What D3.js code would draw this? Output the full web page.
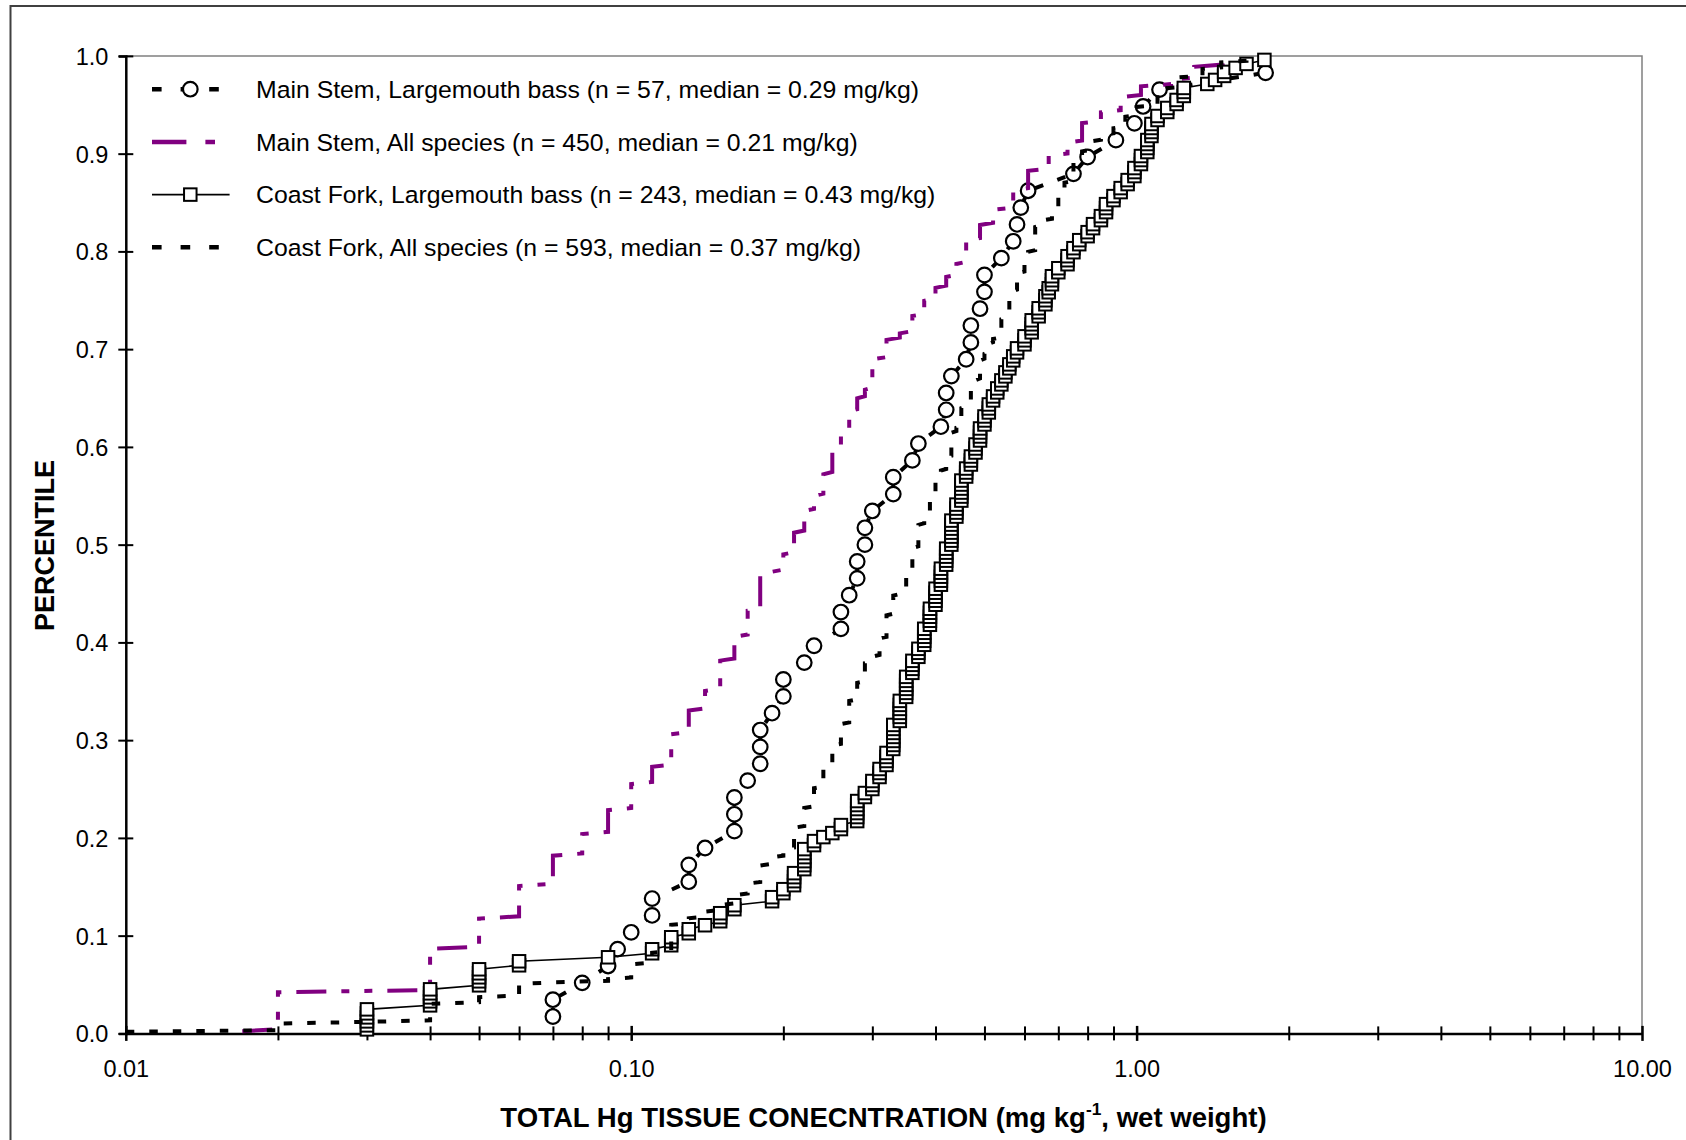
<!DOCTYPE html>
<html><head><meta charset="utf-8">
<script src="https://cdn.jsdelivr.net/npm/d3@7"></script>
<style>
html,body{margin:0;padding:0;background:#fff;}
svg{display:block;}
text{font-family:"Liberation Sans", Arial, sans-serif;}
</style></head>
<body><svg id="chart" width="1686" height="1140"></svg>
<script>
// ---------------- DATA ----------------
const legendLabels = [
  "Main Stem, Largemouth bass (n = 57, median = 0.29 mg/kg)",
  "Main Stem, All species (n = 450, median = 0.21 mg/kg)",
  "Coast Fork, Largemouth bass (n = 243, median = 0.43 mg/kg)",
  "Coast Fork, All species (n = 593, median = 0.37 mg/kg)"
];
// Main Stem, Largemouth bass: individual concentrations (mg/kg), sorted
const msLmbConc = [0.07,0.07,0.08,0.09,0.094,0.10,0.11,0.11,0.13,0.13,0.14,0.16,0.16,0.16,0.17,0.18,0.18,0.18,0.19,0.20,0.20,0.22,0.23,0.26,0.26,0.27,0.28,0.28,0.29,0.29,0.30,0.33,0.33,0.36,0.37,0.41,0.42,0.42,0.43,0.46,0.47,0.47,0.49,0.50,0.50,0.54,0.57,0.58,0.59,0.61,0.75,0.80,0.91,0.99,1.03,1.11,1.80];
// Main Stem, All species: distinct concentrations and number of fish at each
const msAllConc  = [0.017,0.02,0.04,0.05,0.06,0.07,0.08,0.09,0.10,0.11,0.12,0.13,0.14,0.15,0.16,0.17,0.18,0.19,0.20,0.21,0.22,0.23,0.24,0.25,0.26,0.27,0.28,0.29,0.30,0.32,0.34,0.36,0.38,0.40,0.42,0.44,0.46,0.49,0.52,0.57,0.61,0.67,0.73,0.78,0.85,0.93,1.02,1.17,1.30,1.48,1.52];
const msAllCount = [1,18,20,14,15,14,10,11,12,8,15,11,9,14,11,12,16,2,8,10,10,7,10,11,7,11,6,4,14,9,3,8,7,6,5,6,11,7,7,9,9,7,6,9,5,7,5,3,6,2,2];
// Coast Fork, Largemouth bass
const cfLmbConc  = [0.03,0.04,0.05,0.06,0.09,0.11,0.12,0.13,0.14,0.15,0.16,0.19,0.20,0.21,0.22,0.23,0.24,0.25,0.26,0.28,0.29,0.30,0.31,0.32,0.33,0.34,0.35,0.36,0.37,0.38,0.39,0.40,0.41,0.42,0.43,0.44,0.45,0.46,0.47,0.48,0.49,0.50,0.51,0.52,0.53,0.54,0.55,0.56,0.57,0.58,0.60,0.62,0.64,0.66,0.67,0.68,0.70,0.73,0.75,0.77,0.80,0.82,0.85,0.87,0.90,0.93,0.96,0.99,1.02,1.05,1.07,1.10,1.15,1.20,1.24,1.38,1.43,1.49,1.57,1.65,1.79];
const cfLmbCount = [6,5,5,2,1,2,3,2,1,3,2,2,2,4,6,2,1,1,2,6,2,3,3,4,7,6,6,4,3,5,5,5,5,5,7,4,6,3,3,3,4,3,3,2,2,2,2,2,2,2,3,4,3,3,2,3,2,3,2,2,2,2,2,3,2,2,2,3,3,4,4,2,2,2,3,1,1,2,1,1,1];
// Coast Fork, All species
const cfAllConc  = [0.01,0.02,0.03,0.04,0.05,0.06,0.07,0.09,0.10,0.11,0.12,0.13,0.14,0.15,0.16,0.17,0.18,0.19,0.20,0.21,0.22,0.23,0.24,0.25,0.26,0.27,0.28,0.29,0.30,0.31,0.32,0.33,0.34,0.35,0.36,0.37,0.38,0.39,0.40,0.41,0.42,0.43,0.44,0.45,0.46,0.47,0.48,0.49,0.50,0.51,0.52,0.54,0.55,0.56,0.57,0.58,0.60,0.61,0.63,0.65,0.68,0.70,0.72,0.75,0.78,0.81,0.85,0.90,0.95,1.00,1.10,1.21,1.35,1.47,1.65];
const cfAllCount = [1,5,1,11,4,8,1,2,9,7,17,4,4,4,6,7,11,5,5,13,12,12,14,12,13,14,11,12,4,11,14,12,4,10,15,14,5,9,14,5,8,15,3,12,3,9,5,12,4,6,3,12,4,10,3,11,5,8,15,4,7,7,9,14,5,6,4,4,7,6,11,7,5,4,3];

const xTickValues = [0.01, 0.1, 1, 10];
const yTickValues = [0,0.1,0.2,0.3,0.4,0.5,0.6,0.7,0.8,0.9,1.0];
const xTitle = ["TOTAL Hg TISSUE CONECNTRATION (mg kg", "-1", ", wet weight)"];
const yTitle = "PERCENTILE";

// ---------------- LAYOUT ----------------
const L = 125.8, R = 1642, T = 55.9, B = 1033.4;
const svg = d3.select("#chart");
const x = d3.scaleLog().domain([0.01, 10]).range([L, R]);
const y = d3.scaleLinear().domain([0, 1]).range([B, T]);

// plotting positions (rank / (n + 1)) from the sample values
function cdf(conc, count) {
  const n = count ? d3.sum(count) : conc.length;
  const pts = []; let r = 0;
  conc.forEach((v, i) => {
    const c = count ? count[i] : 1;
    for (let k = 0; k < c; k++) { r++; pts.push({v: v, p: r / (n + 1)}); }
  });
  return pts;
}
const msLmb = cdf(msLmbConc), msAll = cdf(msAllConc, msAllCount),
      cfLmb = cdf(cfLmbConc, cfLmbCount), cfAll = cdf(cfAllConc, cfAllCount);

function fitWidth(sel, target, ax) {
  const w = sel.node().getComputedTextLength();
  const s = target / w;
  sel.attr("transform", `translate(${ax},0) scale(${s},1) translate(${-ax},0)`);
}

// outer chart border
svg.append("rect").attr("x", 10.5).attr("y", 6).attr("width", 1700).attr("height", 1200)
  .attr("fill", "none").attr("stroke", "#404040").attr("stroke-width", 2);
// plot area border (top / right)
svg.append("path").attr("d", `M${L},${T}H${R}V${B}`).attr("fill", "none")
  .attr("stroke", "#808080").attr("stroke-width", 1.5);

// axes
const fontFam = '"Liberation Sans", Arial, sans-serif';
const minorTicks = x.ticks().filter(t => !xTickValues.some(m => Math.abs(m - t) < 1e-9));
const gxm = svg.append("g").attr("transform", `translate(0,${B})`)
  .call(d3.axisBottom(x).tickValues(minorTicks).tickFormat("").tickSizeOuter(0));
gxm.select(".domain").remove();
gxm.selectAll(".tick line").attr("y1", -7).attr("y2", 7).attr("stroke", "#000").attr("stroke-width", 2);

const gx = svg.append("g").attr("transform", `translate(0,${B})`)
  .call(d3.axisBottom(x).tickValues(xTickValues).tickFormat(d3.format(".2f")).tickSizeOuter(0));
gx.attr("font-family", fontFam).attr("font-size", 23.5);
gx.select(".domain").attr("stroke", "#000").attr("stroke-width", 2.5);
gx.selectAll(".tick line").attr("y1", -7.5).attr("y2", 7.5).attr("stroke", "#000").attr("stroke-width", 2.5);
gx.selectAll(".tick text").attr("dy", null).attr("y", 44).attr("fill", "#000");

const gy = svg.append("g").attr("transform", `translate(${L},0)`)
  .call(d3.axisLeft(y).tickValues(yTickValues).tickFormat(d3.format(".1f")).tickSizeOuter(0).tickSize(7).tickPadding(10.5));
gy.attr("font-family", fontFam).attr("font-size", 23.5);
gy.select(".domain").attr("stroke", "#000").attr("stroke-width", 2.5);
gy.selectAll(".tick line").attr("x1", -7.5).attr("x2", 7.5).attr("stroke", "#000").attr("stroke-width", 2);
gy.selectAll(".tick text").attr("dy", "0.36em").attr("fill", "#000");

// axis titles
const xt = svg.append("text").attr("x", 883.5).attr("y", 1127).attr("text-anchor", "middle")
  .attr("font-size", 27).attr("font-weight", "bold").attr("fill", "#000");
xt.append("tspan").text(xTitle[0]);
xt.append("tspan").attr("dy", -12).attr("font-size", 17).text(xTitle[1]);
xt.append("tspan").attr("dy", 12).text(xTitle[2]);
fitWidth(xt, 766.7, 883.5);

const yt = svg.append("g").attr("transform", "translate(54,545.5) rotate(-90)")
  .append("text").attr("x", 0).attr("y", 0).attr("text-anchor", "middle")
  .attr("font-size", 27).attr("font-weight", "bold").attr("fill", "#000").text(yTitle);
fitWidth(yt, 171, 0);

// series
const line = d3.line().x(d => x(d.v)).y(d => y(d.p));
const plot = svg.append("g");
const plotDash = "8.5,15";
const purpleDash = "30,15,8,15,8,15";

// Main Stem LMB
plot.append("path").datum(msLmb).attr("d", line).attr("fill", "none")
  .attr("stroke", "#000").attr("stroke-width", 4).attr("stroke-dasharray", plotDash);
plot.append("g").selectAll("circle").data(msLmb).join("circle")
  .attr("cx", d => x(d.v)).attr("cy", d => y(d.p)).attr("r", 7.3)
  .attr("fill", "#fff").attr("stroke", "#000").attr("stroke-width", 2.2);
// Main Stem All species
plot.append("path").datum(msAll).attr("d", line).attr("fill", "none")
  .attr("stroke", "#800080").attr("stroke-width", 4).attr("stroke-dasharray", purpleDash);
// Coast Fork LMB
plot.append("path").datum(cfLmb).attr("d", line).attr("fill", "none")
  .attr("stroke", "#000").attr("stroke-width", 1.6);
const sq = 12.5;
plot.append("g").selectAll("rect").data(cfLmb).join("rect")
  .attr("x", d => x(d.v) - sq / 2).attr("y", d => y(d.p) - sq / 2).attr("width", sq).attr("height", sq)
  .attr("fill", "#fff").attr("stroke", "#000").attr("stroke-width", 2);
// Coast Fork All species
plot.append("path").datum(cfAll).attr("d", line).attr("fill", "none")
  .attr("stroke", "#000").attr("stroke-width", 4).attr("stroke-dasharray", plotDash);

// legend
const legBase = [98, 150.7, 203.4, 256.1];
const legW = [663.5, 602.2, 679.6, 605.4];
const lx0 = 152, lx1 = 229.6, lmx = 190.3, ltx = 256;
const leg = svg.append("g");
legendLabels.forEach((lab, i) => {
  const cy = legBase[i] - 8.8;
  const g = leg.append("g");
  const ln = g.append("line").attr("x1", lx0).attr("x2", lx1).attr("y1", cy).attr("y2", cy);
  if (i === 0) {
    ln.attr("stroke", "#000").attr("stroke-width", 4.5).attr("stroke-dasharray", "9.6,19");
    g.append("circle").attr("cx", lmx).attr("cy", cy).attr("r", 7.3).attr("fill", "#fff")
      .attr("stroke", "#000").attr("stroke-width", 2.2);
  } else if (i === 1) {
    ln.attr("stroke", "#800080").attr("stroke-width", 4.5).attr("stroke-dasharray", "34.4,19,9.6,19");
  } else if (i === 2) {
    ln.attr("stroke", "#000").attr("stroke-width", 1.6);
    g.append("rect").attr("x", lmx - sq / 2).attr("y", cy - sq / 2).attr("width", sq).attr("height", sq)
      .attr("fill", "#fff").attr("stroke", "#000").attr("stroke-width", 2);
  } else {
    ln.attr("stroke", "#000").attr("stroke-width", 4.5).attr("stroke-dasharray", "9.6,19");
  }
  const t = g.append("text").attr("x", ltx).attr("y", legBase[i]).attr("font-size", 24.5)
    .attr("fill", "#000").text(lab);
  fitWidth(t, legW[i], ltx);
});
</script>
</body></html>
